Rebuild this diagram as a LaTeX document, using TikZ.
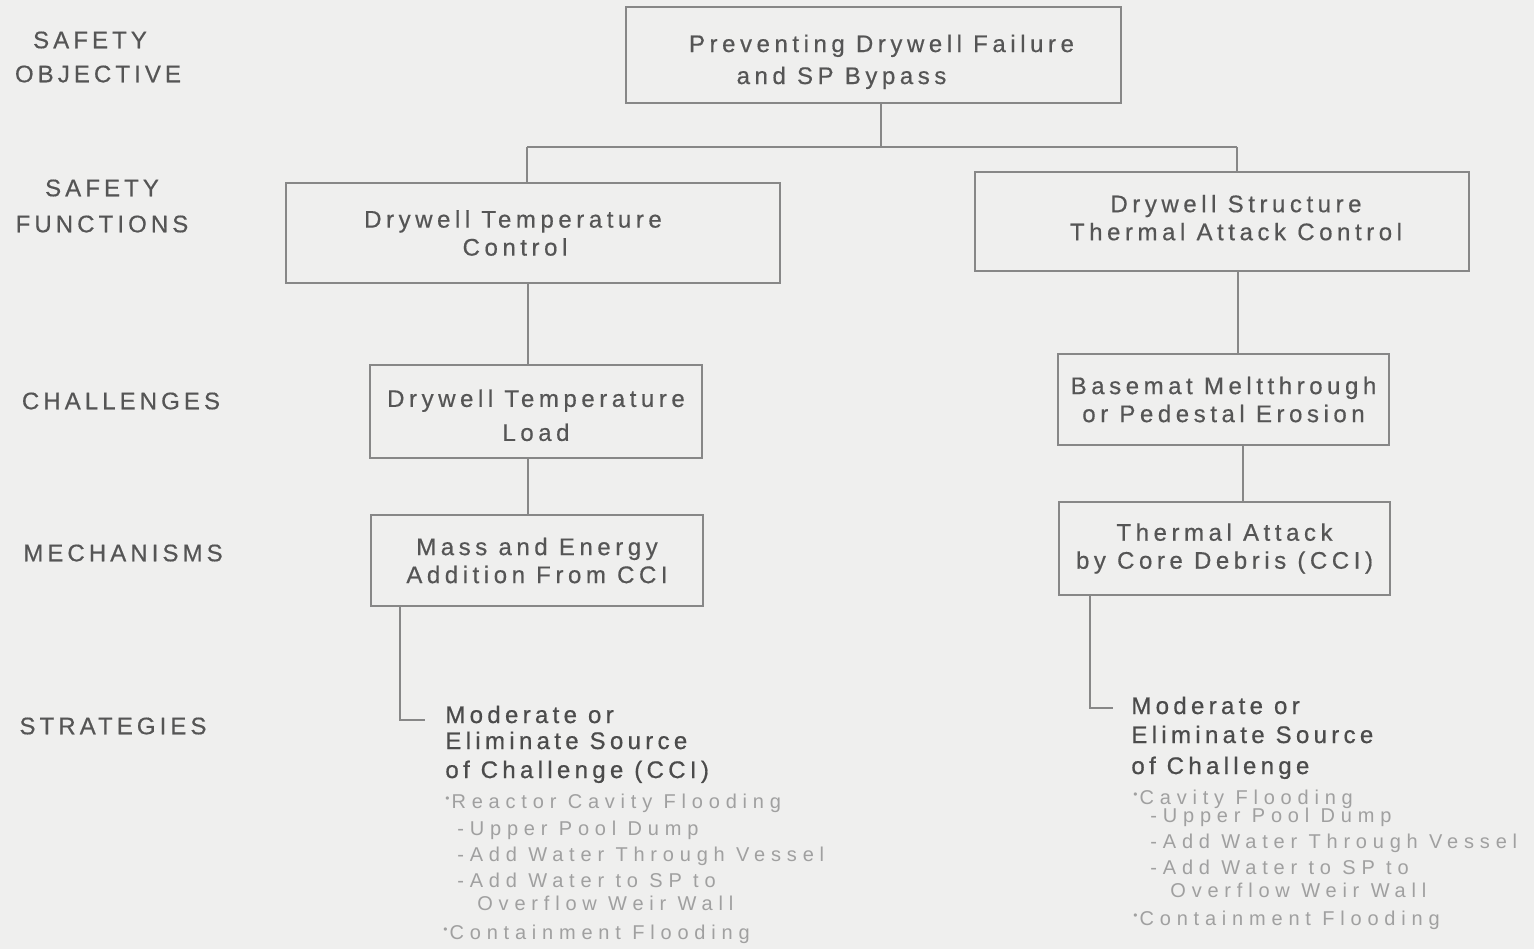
\documentclass[tikz,border=0pt]{standalone}
\usepackage{fontspec}
\setmainfont{Liberation Sans}
\newfontfamily\lblfont[LetterSpace=17,FakeBold=0.5]{Liberation Sans}
\newfontfamily\boxfont[LetterSpace=19,FakeBold=0.5]{Liberation Sans}
\newfontfamily\headfont[LetterSpace=18,FakeBold=0.7]{Liberation Sans}
\newfontfamily\subfont[LetterSpace=29]{Liberation Sans}
\definecolor{paper}{RGB}{239,239,238}
\definecolor{rulegray}{RGB}{135,135,135}
\definecolor{inkgray}{RGB}{85,85,85}
\definecolor{headgray}{RGB}{75,75,75}
\definecolor{faintgray}{RGB}{160,160,160}
% small raised bullet of the strategy lists
\newcommand{\hdot}{\raisebox{0.55ex}{\fontsize{6}{6}\selectfont •}\hspace{1pt}}
% push a centred line sideways without changing its width
\newcommand{\nudge}[2]{\hspace*{#1}#2\hspace*{-#1}}
% invisible struts that move a box's text block down or up
\newcommand{\pushdown}[1]{\rule{0pt}{#1}}
\newcommand{\pushup}[1]{\rule[-#1]{0pt}{0pt}}
\tikzset{
  box/.style={draw=rulegray, line width=0.7pt, align=center, text=inkgray,
    inner sep=0pt, font=\boxfont\fontsize{12}{14}\selectfont},
  lbl/.style={align=center, text=inkgray, inner sep=0pt,
    font=\lblfont\fontsize{12}{17}\selectfont},
  link/.style={draw=rulegray, line width=0.7pt},
  head/.style={anchor=base west, inner sep=0pt, text=headgray,
    font=\headfont\fontsize{12}{14}\selectfont},
  item/.style={anchor=base west, inner sep=0pt, text=faintgray,
    font=\subfont\fontsize{10}{12}\selectfont}
}
\begin{document}
\begin{tikzpicture}[x=0.5pt,y=-0.5pt]
\useasboundingbox (0,0) rectangle (1534,949);
\fill[paper] (0,0) rectangle (1534,949);

% level labels
\node[lbl] (lobj) at (98,57) {\nudge{-4pt}{SAFETY}\\OBJECTIVE};
\node[lbl, font=\lblfont\fontsize{12}{18}\selectfont] (lfun) at (102,206) {SAFETY\\FUNCTIONS};
\node[lbl] (lcha) at (121,401) {CHALLENGES};
\node[lbl] (lmec) at (123,553) {MECHANISMS};
\node[lbl] (lstr) at (113,726) {STRATEGIES};

% boxes
\node[box, minimum width=247.5pt, minimum height=48pt,
  font=\boxfont\fontsize{12}{16}\selectfont] (obj) at (873.5,55)
  {\pushdown{15.5pt}\nudge{4pt}{Preventing Drywell Failure}\\\nudge{-16pt}{and SP Bypass}};
\node[box, minimum width=247pt, minimum height=50pt] (sfL) at (533,233)
  {\nudge{-10pt}{Drywell Temperature}\\\nudge{-9pt}{Control}};
\node[box, minimum width=247pt, minimum height=49.5pt] (sfR) at (1222,221.5)
  {\nudge{7pt}{Drywell Structure}\\\nudge{7pt}{Thermal Attack Control}\pushup{4pt}};
\node[box, minimum width=166pt, minimum height=46.5pt,
  font=\boxfont\fontsize{12}{17}\selectfont] (chL) at (536,411.5)
  {\pushdown{12.5pt}Drywell Temperature\\Load};
\node[box, minimum width=166pt, minimum height=45.5pt] (meL) at (537,560.5)
  {Mass and Energy\\Addition From CCI};
\node[box, minimum width=165.5pt, minimum height=45.5pt] (chR) at (1223.5,399.5)
  {Basemat Meltthrough\\or Pedestal Erosion};
\node[box, minimum width=165.5pt, minimum height=46.5pt] (meR) at (1224.5,548.5)
  {Thermal Attack\\by Core Debris (CCI)};

% tree connectors
\coordinate (j) at (881,147);
\coordinate (jl) at (527,147);
\coordinate (jr) at (1237,147);
\draw[link] (obj.south -| j) -- (j);
\draw[link] (jl) -- (jr);
\draw[link] (jl) -- (sfL.north -| jl);
\draw[link] (jr) -- (sfR.north -| jr);
\coordinate (cl) at (528,0);
\draw[link] (sfL.south -| cl) -- (chL.north -| cl);
\draw[link] (chL.south -| cl) -- (meL.north -| cl);
\coordinate (cr1) at (1238,0);
\coordinate (cr2) at (1243,0);
\draw[link] (sfR.south -| cr1) -- (chR.north -| cr1);
\draw[link] (chR.south -| cr2) -- (meR.north -| cr2);

% strategy branches
\coordinate (kL) at (400,720);
\coordinate (sL) at (425,720);
\draw[link] (meL.south -| kL) -- (kL) -- (sL);
\coordinate (kR) at (1090,708);
\coordinate (sR) at (1113,708);
\draw[link] (meR.south -| kR) -- (kR) -- (sR);

% left strategy text
\node[head] (hl1) at (445,723) {Moderate or};
\node[head] (hl2) at (445,749) {Eliminate Source};
\node[head] (hl3) at (445,778) {of Challenge (CCI)};
\node[item] (il1) at (445,808) {\hdot Reactor Cavity Flooding};
\node[item] (il2) at (457,835) {-Upper Pool Dump};
\node[item] (il3) at (457,861) {-Add Water Through Vessel};
\node[item] (il4) at (457,887) {-Add Water to SP to};
\node[item] (il5) at (477,910) {Overflow Weir Wall};
\node[item] (il6) at (443,939) {\hdot Containment Flooding};

% right strategy text
\node[head] (hr1) at (1131,714) {Moderate or};
\node[head] (hr2) at (1131,743) {Eliminate Source};
\node[head] (hr3) at (1131,774) {of Challenge};
\node[item] (ir1) at (1133,804) {\hdot Cavity Flooding};
\node[item] (ir2) at (1150,822) {-Upper Pool Dump};
\node[item] (ir3) at (1150,848) {-Add Water Through Vessel};
\node[item] (ir4) at (1150,874) {-Add Water to SP to};
\node[item] (ir5) at (1170,897) {Overflow Weir Wall};
\node[item] (ir6) at (1133,925) {\hdot Containment Flooding};
\end{tikzpicture}
\end{document}
